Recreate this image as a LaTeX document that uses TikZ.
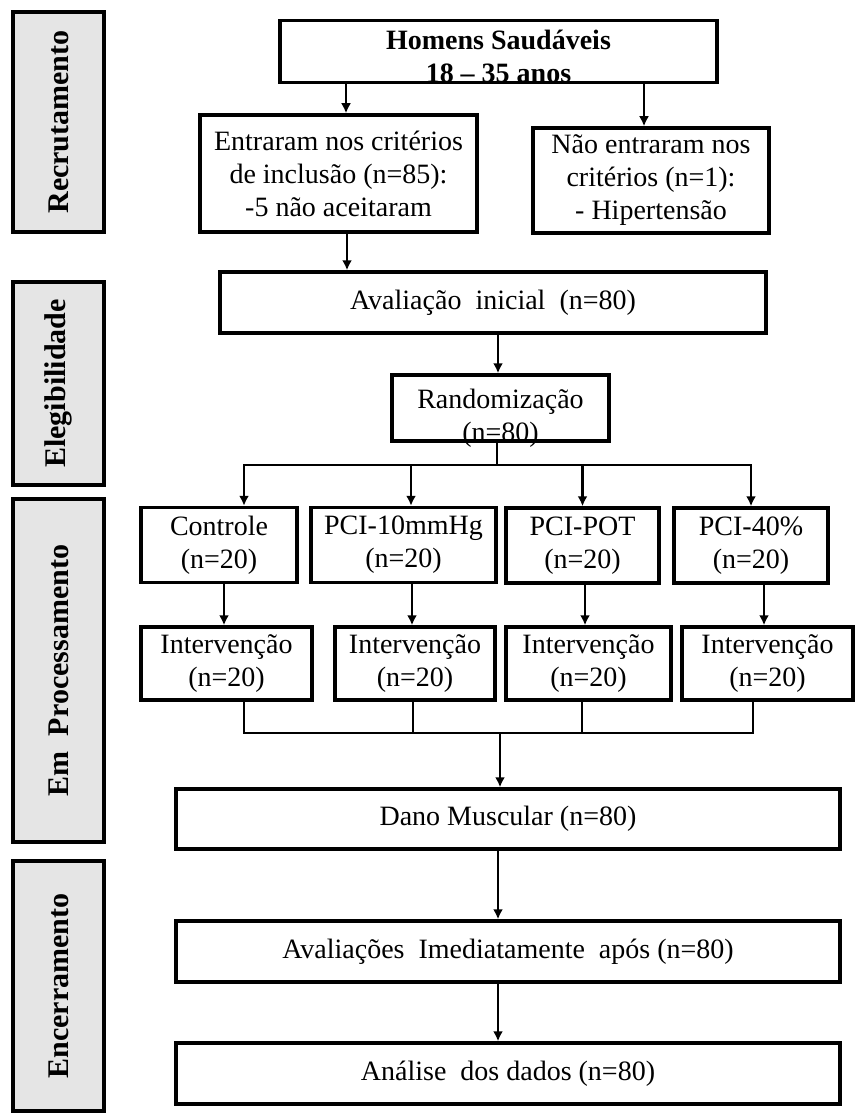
\documentclass[tikz,border=0pt]{standalone}
\usepackage{fontspec}
\setmainfont{Liberation Serif}
\usetikzlibrary{arrows.meta}

\begin{document}
\begin{tikzpicture}[x=1pt, y=-1pt,
    font=\fontsize{28}{33}\selectfont,
    caixa/.style={draw, line width=3.5pt, align=center, inner sep=0pt},
    fase/.style={draw, line width=4pt, fill=black!10, rotate=90, inner sep=0pt,
      font=\fontsize{30}{33}\selectfont\bfseries},
    seta/.style={-{Latex[length=10pt,width=10pt]}, line width=2.5pt},
    linha/.style={line width=2.5pt}]
  \useasboundingbox (0,0) rectangle (862,1115);

  % ---------- fases (coluna da esquerda) ----------
  \node[fase, minimum width=220pt, minimum height=91pt] (recr) at (58.5,122) {Recrutamento};
  \node[fase, minimum width=203pt, minimum height=91pt] (eleg) at (58.5,383.5) {Elegibilidade};
  \node[fase, minimum width=343pt, minimum height=91pt] (proc) at (58.5,670.5) {Em\ \ Processamento};
  \node[fase, minimum width=250pt, minimum height=91pt] (ence) at (58.5,986) {Encerramento};

  % ---------- recrutamento ----------
  \node[caixa, minimum width=437pt, minimum height=61pt, text height=62pt, text depth=0pt,
    font=\fontsize{28}{33}\selectfont\bfseries]
    (homens) at (498.5,51.5) {Homens Saudáveis\\ 18 -- 35 anos};
  \node[caixa, minimum width=277pt, minimum height=117pt] (entr) at (338.5,173.5)
    {Entraram nos critérios\\ de inclusão (n=85):\\ -5 não aceitaram};
  \node[caixa, minimum width=236pt, minimum height=105pt] (nao) at (651,180.5)
    {Não entraram nos\\ critérios (n=1):\\ - Hipertensão};

  % ---------- elegibilidade ----------
  \node[caixa, minimum width=546pt, minimum height=61pt] (aval) at (493,302.5) {Avaliação\ \ inicial\ \ (n=80)};
  \node[caixa, minimum width=217pt, minimum height=62pt, text height=66pt, text depth=0pt]
    (rand) at (500.5,408) {Randomização\\ (n=80)};

  % ---------- grupos ----------
  \node[caixa, minimum width=156pt, minimum height=75pt] (g1) at (219,545) {Controle\\ (n=20)};
  \node[caixa, minimum width=185pt, minimum height=75pt] (g2) at (403.5,545) {PCI-10mmHg\\ (n=20)};
  \node[caixa, minimum width=153pt, minimum height=75pt] (g3) at (582.5,545.5) {PCI-POT\\ (n=20)};
  \node[caixa, minimum width=154pt, minimum height=75pt] (g4) at (751,545.5) {PCI-40\%\\ (n=20)};

  \node[caixa, minimum width=171pt, minimum height=73pt] (i1) at (226.5,663.5) {Intervenção\\ (n=20)};
  \node[caixa, minimum width=160pt, minimum height=73pt] (i2) at (415,663.5) {Intervenção\\ (n=20)};
  \node[caixa, minimum width=165pt, minimum height=73pt] (i3) at (588.5,663.5) {Intervenção\\ (n=20)};
  \node[caixa, minimum width=171pt, minimum height=73pt] (i4) at (767.5,663.5) {Intervenção\\ (n=20)};

  % ---------- encerramento ----------
  \node[caixa, minimum width=664pt, minimum height=60pt] (dano) at (508,819) {Dano Muscular (n=80)};
  \node[caixa, minimum width=664pt, minimum height=61pt] (aval2) at (508,951.5) {Avaliações\ \ Imediatamente\ \ após (n=80)};
  \node[caixa, minimum width=664pt, minimum height=61pt] (anal) at (508,1073.5) {Análise\ \ dos dados (n=80)};

  % ---------- conexões ----------
  \draw[seta] ([xshift=-152.5pt]homens.south) -- ([xshift=7.5pt]entr.north);
  \draw[seta] ([xshift=145.5pt]homens.south) -- ([xshift=-7pt]nao.north);
  \draw[seta] ([xshift=8.5pt]entr.south) -- ([xshift=-146pt]aval.north);
  \draw[seta] ([xshift=5pt]aval.south) -- ([xshift=-2.5pt]rand.north);

  % ramificação para os quatro grupos
  \coordinate (ramo) at (497,465);
  \draw[linha] ([xshift=-3.5pt]rand.south) -- (ramo);
  \draw[seta] (ramo) -| ([xshift=25pt]g1.north);
  \draw[seta] (ramo) -| ([xshift=7.5pt]g2.north);
  \draw[seta] (ramo) -| (g3.north);
  \draw[seta] (ramo) -| (g4.north);

  \draw[seta] ([xshift=5pt]g1.south) -- ([xshift=-2.5pt]i1.north);
  \draw[seta] ([xshift=8.5pt]g2.south) -- ([xshift=-3pt]i2.north);
  \draw[seta] ([xshift=2.5pt]g3.south) -- ([xshift=-3.5pt]i3.north);
  \draw[seta] ([xshift=13pt]g4.south) -- ([xshift=-3.5pt]i4.north);

  % junção das intervenções
  \coordinate (junta) at (500,733);
  \draw[linha] ([xshift=17.5pt]i1.south) |- (junta);
  \draw[linha] ([xshift=-2pt]i2.south) |- (junta);
  \draw[linha] ([xshift=-6.5pt]i3.south) |- (junta);
  \draw[linha] ([xshift=-14.5pt]i4.south) |- (junta);
  \draw[seta] (junta) -- ([xshift=-8pt]dano.north);

  \draw[seta] ([xshift=-10pt]dano.south) -- ([xshift=-10pt]aval2.north);
  \draw[seta] ([xshift=-10pt]aval2.south) -- ([xshift=-10pt]anal.north);
\end{tikzpicture}
\end{document}
